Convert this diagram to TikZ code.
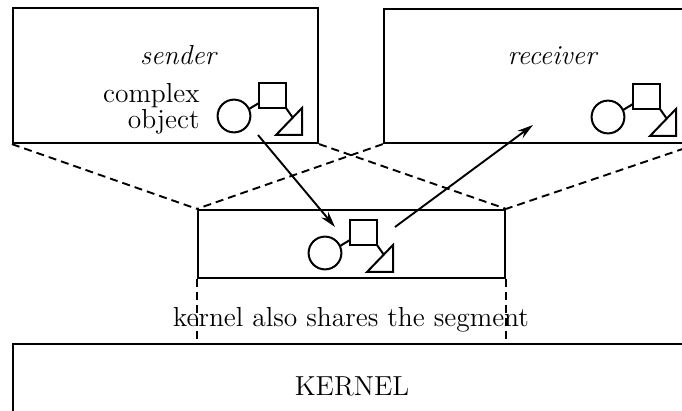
\documentclass[tikz,border=0pt]{standalone}
\usepackage{tikz}
\usetikzlibrary{arrows.meta,positioning}

% a small complex object: circle, square and triangle linked together
\tikzset{
  cobj/.pic={
    \draw (0,0) circle[radius=8.2pt];
    \draw (25,-33) rectangle (52,-8);
    \draw (42,19) -- (68,19) -- (68,-8) -- cycle;
    \draw (15,-7) -- (25,-13);
    \draw (52,-8) -- (59,2);
  }
}

\begin{document}
\begin{tikzpicture}[
  x=0.5pt, y=-0.5pt,
  font=\fontsize{13.75}{15}\selectfont,
  space/.style={draw, line width=1.1pt, inner sep=0pt},
  share/.style={line width=0.95pt, dash pattern=on 4pt off 2.5pt},
  arr/.style={-{Stealth[length=8pt,width=4.5pt]}, line width=0.95pt},
  every pic/.style={line width=1pt},
]
\useasboundingbox (0,0) rectangle (682,411);
\clip (0,0) rectangle (682,411);

% address spaces and the shared segment
\node[space, minimum width=152.5pt, minimum height=67.5pt] (sender) at (165.5,75.5) {};
\node[space, minimum width=156pt, minimum height=67pt] (receiver) at (540,76) {};
\node[space, minimum width=153.5pt, minimum height=34pt] (segment) at (351.5,244) {};
\node[space, minimum width=353.5pt, minimum height=48pt] (kernel) at (366.5,392) {};

\node (sendlbl) at (179,55) {\textit{sender}};
\node (recvlbl) at (553,56) {\textit{receiver}};
\node[align=right, anchor=east, inner sep=0pt,
      font=\fontsize{13.75}{11.5}\selectfont] (objlbl) at (200,109) {complex\\object};
\node (kernlbl) at (352,386) {KERNEL};

% the object in each space
\pic at (234,116) {cobj};
\pic at (608,117) {cobj};
\pic at (325,253) {cobj};

% mapping of the segment into both spaces
\draw[share] (sender.south west) -- (segment.north west);
\draw[share] (sender.south east) -- (segment.north east);
\draw[share] (receiver.south west) -- (segment.north west);
\draw[share] (receiver.south east) -- (segment.north east);
\draw[share] (segment.south west) -- (segment.south west |- kernel.north);
\draw[share] (segment.south east) -- (segment.south east |- kernel.north);

\node (sharelbl) at (351,320) {kernel also shares the segment};

% passing the object
\coordinate (put) at (258,135);
\coordinate (putend) at (335,227);
\coordinate (get) at (395,227);
\coordinate (getend) at (533,125);
\draw[arr] (put) -- (putend);
\draw[arr] (get) -- (getend);
\end{tikzpicture}
\end{document}
